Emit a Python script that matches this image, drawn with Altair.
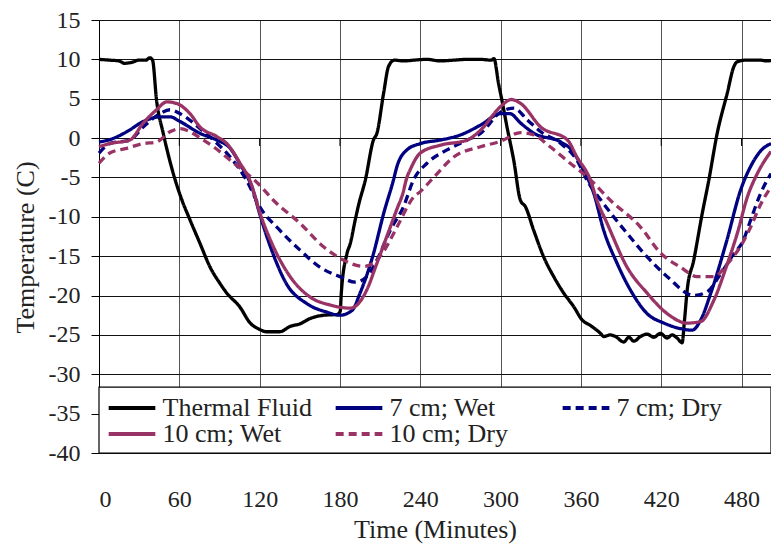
import altair as alt
import pandas as pd

# legend is laid out column-major, so this order gives rows:
# Thermal Fluid | 7 cm; Wet | 7 cm; Dry  /  10 cm; Wet | 10 cm; Dry
series_names = ["Thermal Fluid", "10 cm; Wet", "7 cm; Wet", "10 cm; Dry", "7 cm; Dry"]
series_colors = ["#000000", "#993366", "#000080", "#993366", "#000080"]
series_dashes = [[1, 0], [1, 0], [1, 0], [8, 5], [8, 5]]

fluid_t = [0, 8, 15, 19, 24, 30, 35, 38, 40, 43, 48, 55.5, 62, 68, 75.5, 83, 90.5, 95.5, 105, 113, 120,
           125, 135, 143, 150, 158, 168, 178, 180.2, 181, 185.2, 187.7, 191.4, 193.9, 199, 205, 207.6,
           212.6, 216.3, 220.6, 228, 235, 245, 255, 265, 275, 285, 293, 295, 298.5, 301, 304.8, 309.8,
           314.8, 318.5, 324.7, 332.2, 339.7, 347.2, 354.6, 360.9, 367.1, 374.6, 377, 382, 385.8, 392,
           395.8, 399.5, 404.5, 409.5, 414.4, 419.4, 424.4, 428.1, 431.9, 435.6, 437.4, 439.4, 444.3,
           450.6, 455.6, 461.8, 469.3, 474.3, 476.8, 483, 494, 499, 502]
fluid_v = [10.0, 9.9, 9.8, 9.5, 9.6, 9.9, 9.9, 10.2, 9.9, 4.8, 0.6, -4.5, -7.9, -10.4, -13.4, -16.4, -18.5,
           -19.7, -21.4, -23.5, -24.3, -24.6, -24.6, -23.9, -23.6, -22.9, -22.5, -22.4, -22.0, -19.7, -14.7,
           -13.4, -10.4, -8.5, -5.3, -0.25, 0.6, 5.7, 9.1, 9.9, 9.8, 9.9, 10.0, 9.8, 9.9, 10.0, 10.0, 9.9,
           10.1, 6.9, 4.8, 1.4, -2.8, -7.9, -8.7, -11.7, -15.1, -17.6, -19.7, -21.4, -23.1, -23.8, -24.8,
           -25.2, -25.0, -25.2, -25.9, -25.3, -25.8, -25.2, -24.9, -25.3, -24.8, -25.4, -25.0, -25.4, -26.0,
           -23.1, -19.3, -15.5, -9.6, -5.3, 0.6, 5.7, 9.1, 9.7, 9.9, 9.9, 9.8, 9.85]

wet7_t = [0, 8, 20.7, 33, 45.6, 53, 60.6, 75.5, 88, 98, 105, 115, 120, 130, 140, 155, 170, 180, 189, 195,
          205, 212.6, 220, 222.6, 230, 240, 255, 270, 285, 300, 307, 315, 325, 345, 353, 362,
          369.6, 377, 387, 397, 409.5, 422, 434.4, 443, 449.5, 457, 469, 479.3, 486.8, 495, 502]
wet7_v = [-0.5, -0.2, 0.8, 2.1, 2.7, 2.7, 2.1, 0.6, -0.25, -1.3, -3.2, -6.6, -9.6, -14.7, -18.5, -21.0,
          -22.1, -22.5, -21.9, -19.7, -14.7, -9.6, -5.3, -3.6, -1.5, -0.7, -0.25, 0.4, 1.65, 3.1,
          3.1, 1.9, 0.6, -0.5, -1.5, -4.1, -7.0, -11.7, -15.9, -19.3, -22.3, -23.5, -24.2, -24.4, -23.1,
          -19.7, -13.0, -6.6, -3.6, -1.5, -0.7]

dry7_t = [0, 8, 23, 33, 45.6, 53, 60.6, 75.5, 85.5, 98, 110, 120, 135, 150, 165, 180, 191.4, 200, 207.6,
          217.6, 227.5, 235, 245, 260, 275, 285, 300, 310, 320, 330, 345, 357, 365, 375, 394.5, 409.5,
          424.5, 444.5, 454.5, 464.5, 473, 481.8, 486.8, 494.3, 502]
dry7_v = [-1.9, -0.7, -0.25, 1.4, 3.1, 3.6, 3.1, 1.2, -0.25, -2.4, -5.3, -8.7, -11.7, -14.2, -16.4, -17.6,
          -18.3, -17.6, -15.5, -11.7, -8.7, -5.3, -3.2, -1.5, -0.25, 0.6, 3.3, 3.8, 2.3, 0.8, -0.7, -2.8,
          -5.5, -7.9, -12.1, -15.1, -17.6, -20.0, -19.5, -17.2, -15.0, -12.8, -10.4, -7.0, -4.5]

wet10_t = [0, 8, 23, 33, 43, 50.6, 58, 68, 75.5, 88, 95.5, 105.4, 113, 120.4, 130.3, 142.8, 157.8, 172.7,
           187.7, 192.7, 200, 207.6, 215, 222.6, 227, 230, 232.5, 240, 255, 275, 285, 300, 308, 315, 330,
           350, 357, 367, 372, 379.5, 394.5, 409.5, 424.5, 439.4, 449.5, 459.3, 469.3, 477, 484.3, 491.8,
           502]
wet10_v = [-1.1, -0.7, -0.25, 1.9, 3.6, 4.6, 4.4, 3.1, 1.4, 0.2, -0.7, -3.2, -5.5, -9.6, -13.8, -17.6,
           -20.2, -21.2, -21.6, -21.2, -19.3, -15.9, -12.5, -9.0, -7.0, -5.0, -4.0, -1.9, -0.9, -0.25, 1.0,
           4.0, 4.9, 4.4, 1.4, -0.25, -2.4, -5.3, -7.9, -10.8, -16.4, -19.7, -22.3, -23.5, -23.3, -20.6,
           -16.0, -12.0, -7.5, -4.5, -1.7]

dry10_t = [0, 8, 20.7, 33, 43, 53, 60.6, 68, 78, 85.5, 98, 110.4, 119, 130.3, 150, 167.7, 182.7, 197.6, 205,
           212.6, 222.6, 235, 240, 250, 265, 285, 300, 315, 325, 337, 352, 364.6, 382, 404.5, 419.5, 434.4,
           446.8, 459.3, 469.3, 481.8, 486.8, 494.3, 502]
dry10_v = [-3.2, -1.9, -1.3, -0.7, -0.5, 0.8, 1.2, 0.8, -0.25, -1.1, -2.8, -4.5, -5.8, -7.9, -10.8, -13.8,
           -15.5, -16.3, -15.9, -14.4, -11.3, -7.5, -6.8, -5.0, -2.4, -1.1, -0.4, 0.7, 0.4, -1.1, -3.2, -4.9,
           -7.9, -11.3, -14.6, -16.4, -17.6, -17.6, -16.0, -13.0, -11.3, -8.4, -6.2]

x_ticks = [0, 60, 120, 180, 240, 300, 360, 420, 480]
y_ticks = [-40, -35, -30, -25, -20, -15, -10, -5, 0, 5, 10, 15]
x_max = 502
legend_top = -31.62

series_data = {
    "Thermal Fluid": (fluid_t, fluid_v),
    "7 cm; Wet": (wet7_t, wet7_v),
    "7 cm; Dry": (dry7_t, dry7_v),
    "10 cm; Wet": (wet10_t, wet10_v),
    "10 cm; Dry": (dry10_t, dry10_v),
}
rows = []
for name, (ts, vs) in series_data.items():
    for t, v in zip(ts, vs):
        rows.append({"t": t, "v": v, "series": name})
df = pd.DataFrame(rows)

FONT = "Liberation Serif, Times New Roman, serif"
TXT = "#222"

xscale = alt.Scale(domain=[0, x_max], nice=False, zero=False)
yscale = alt.Scale(domain=[-40, 15], nice=False, zero=False)

x_axis = alt.Axis(
    values=x_ticks, title="Time (Minutes)", ticks=False, labelPadding=34,
    labelExpr="'' + datum.value", labelOverlap=False,
    labelFont=FONT, labelFontSize=24, labelColor=TXT,
    titleFont=FONT, titleFontSize=26, titleFontWeight="normal", titleColor=TXT,
    titleY=84, titleBaseline="alphabetic",
    grid=True, gridColor="#555", gridWidth=1, domain=False)
y_axis = alt.Axis(
    values=y_ticks, title="Temperature (C)", tickSize=8, tickColor="#000", labelPadding=11,
    labelExpr="'' + datum.value", labelOverlap=False, labelFlush=False,
    labelFont=FONT, labelFontSize=24, labelColor=TXT,
    titleFont=FONT, titleFontSize=26, titleFontWeight="normal", titleColor=TXT,
    titleX=-66, titleY=227, titleAngle=-90, titleBaseline="alphabetic",
    grid=True, gridColor="#111", gridWidth=1, domainColor="#000")

legend_bg = pd.DataFrame({"x0": [0], "x1": [x_max], "y0": [-40], "y1": [legend_top]})
bg = alt.Chart(legend_bg).mark_rect(fill="white", stroke="black", strokeWidth=1.2).encode(
    x=alt.X("x0:Q", scale=xscale, axis=x_axis), x2="x1:Q",
    y=alt.Y("y0:Q", scale=yscale, axis=y_axis), y2="y1:Q")

tick_df = pd.DataFrame({"t": x_ticks[1:], "y0": [0] * 8, "y1": [-1.0] * 8})
zero_ticks = alt.Chart(tick_df).mark_rule(color="black", strokeWidth=1).encode(
    x=alt.X("t:Q", scale=xscale, axis=x_axis),
    y=alt.Y("y0:Q", scale=yscale, axis=y_axis), y2="y1:Q")

lines = alt.Chart(df).mark_line(strokeWidth=3.3, interpolate="monotone", strokeCap="butt").encode(
    x=alt.X("t:Q", scale=xscale, axis=x_axis),
    y=alt.Y("v:Q", scale=yscale, axis=y_axis),
    color=alt.Color("series:N", sort=series_names,
                    scale=alt.Scale(domain=series_names, range=series_colors),
                    title=None,
                    legend=alt.Legend(orient="none", legendX=7.5, legendY=376, columns=3,
                                      gridAlign="all", columnPadding=21, rowPadding=0,
                                      clipHeight=24, symbolType="stroke", symbolSize=2180,
                                      symbolStrokeWidth=4, labelOffset=5, padding=0,
                                      labelFont=FONT, labelFontSize=26, labelColor=TXT)),
    strokeDash=alt.StrokeDash("series:N", sort=series_names,
                              scale=alt.Scale(domain=series_names, range=series_dashes),
                              title=None),
    order=alt.Order("t:Q"),
)

chart = alt.layer(bg, zero_ticks, lines).properties(
    width=672, height=433,
    autosize=alt.AutoSizeParams(type="none"),
    padding={"left": 99, "top": 20, "right": 0, "bottom": 92},
).configure_view(strokeWidth=0).configure(background="white")

chart.save("out.html", embed_options={"renderer": "svg", "actions": False})
